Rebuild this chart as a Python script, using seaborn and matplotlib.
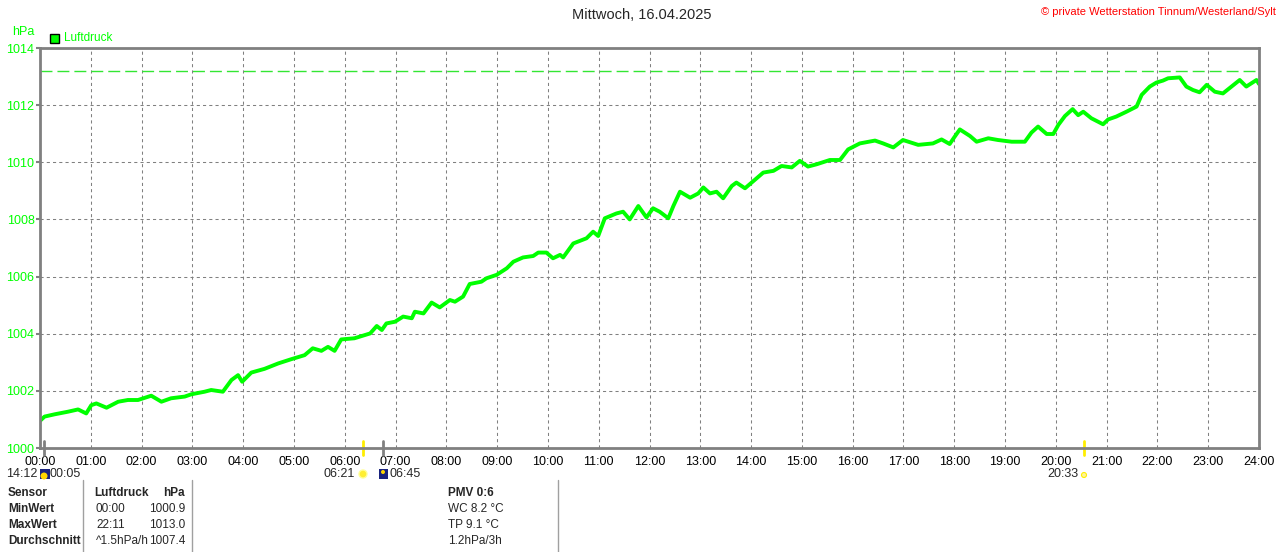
import numpy as np
import pandas as pd
import matplotlib
matplotlib.use("Agg")
import matplotlib.pyplot as plt
import matplotlib.transforms as mtransforms
from matplotlib.patches import Rectangle, Ellipse
import seaborn as sns

# Luftdruck (hPa) ueber den Tag, Zeit in Stunden
hours = [0.0, 0.09, 0.29, 0.55, 0.75, 0.91, 1.01, 1.11, 1.31, 1.54, 1.73, 1.93,
         2.19, 2.39, 2.58, 2.85, 2.98, 3.24, 3.37, 3.60, 3.77, 3.90, 3.98, 4.16,
         4.42, 4.69, 4.95, 5.21, 5.37, 5.54, 5.67, 5.80, 5.93, 6.19, 6.30, 6.50,
         6.63, 6.73, 6.82, 6.99, 7.15, 7.32, 7.38, 7.55, 7.71, 7.87, 8.07, 8.17,
         8.33, 8.46, 8.69, 8.79, 8.99, 9.19, 9.32, 9.51, 9.71, 9.81, 9.97, 10.10,
         10.24, 10.30, 10.50, 10.76, 10.89, 10.99, 11.12, 11.35, 11.48, 11.61,
         11.78, 11.94, 12.07, 12.20, 12.37, 12.47, 12.60, 12.80, 12.96, 13.06,
         13.19, 13.32, 13.45, 13.62, 13.71, 13.88, 14.07, 14.24, 14.44, 14.60,
         14.80, 14.96, 15.12, 15.29, 15.55, 15.75, 15.91, 16.14, 16.44, 16.60,
         16.80, 16.99, 17.29, 17.58, 17.75, 17.91, 18.01, 18.11, 18.31, 18.44,
         18.67, 18.86, 19.13, 19.39, 19.52, 19.65, 19.82, 19.95, 20.05, 20.18,
         20.33, 20.44, 20.54, 20.70, 20.93, 21.03, 21.19, 21.39, 21.59, 21.69,
         21.85, 21.98, 22.11, 22.21, 22.44, 22.57, 22.70, 22.83, 22.97, 23.13,
         23.29, 23.46, 23.62, 23.75, 23.95, 24.0]
pressure = [1000.95, 1001.10, 1001.18, 1001.27, 1001.35, 1001.21, 1001.50, 1001.56,
            1001.41, 1001.62, 1001.68, 1001.68, 1001.83, 1001.62, 1001.74, 1001.80,
            1001.88, 1001.97, 1002.03, 1001.97, 1002.38, 1002.55, 1002.32, 1002.64,
            1002.77, 1002.96, 1003.11, 1003.25, 1003.49, 1003.40, 1003.54, 1003.40,
            1003.80, 1003.84, 1003.90, 1004.01, 1004.27, 1004.13, 1004.36, 1004.42,
            1004.60, 1004.54, 1004.77, 1004.71, 1005.09, 1004.92, 1005.18, 1005.12,
            1005.30, 1005.74, 1005.82, 1005.94, 1006.06, 1006.29, 1006.52, 1006.67,
            1006.72, 1006.84, 1006.84, 1006.64, 1006.76, 1006.67, 1007.16, 1007.34,
            1007.57, 1007.42, 1008.04, 1008.21, 1008.27, 1008.00, 1008.47, 1008.07,
            1008.39, 1008.27, 1008.04, 1008.47, 1008.97, 1008.76, 1008.91, 1009.12,
            1008.91, 1008.97, 1008.74, 1009.17, 1009.29, 1009.09, 1009.38, 1009.64,
            1009.70, 1009.87, 1009.82, 1010.05, 1009.85, 1009.93, 1010.08, 1010.08,
            1010.45, 1010.66, 1010.76, 1010.66, 1010.52, 1010.78, 1010.61, 1010.66,
            1010.80, 1010.64, 1010.90, 1011.15, 1010.92, 1010.72, 1010.84, 1010.78,
            1010.72, 1010.72, 1011.04, 1011.25, 1010.99, 1010.99, 1011.31, 1011.62,
            1011.86, 1011.65, 1011.77, 1011.54, 1011.33, 1011.50, 1011.60, 1011.77,
            1011.95, 1012.36, 1012.65, 1012.79, 1012.86, 1012.94, 1012.97, 1012.65,
            1012.53, 1012.45, 1012.71, 1012.47, 1012.41, 1012.65, 1012.88, 1012.65,
            1012.88, 1012.74]
max_line = 1013.2

x_ticks = list(range(0, 25))
x_labels = [f"{h:02d}:00" for h in x_ticks]
y_ticks = list(range(1000, 1015, 2))

sun_times = [6.35, 20.55]      # 06:21, 20:33
moon_times = [0.083, 6.75]     # 00:05, 06:45

table_rows = ["Sensor", "MinWert", "MaxWert", "Durchschnitt"]
table_col1 = ["Luftdruck", "00:00", "22:11", "^1.5hPa/h"]
table_col2 = ["hPa", "1000.9", "1013.0", "1007.4"]
table_col3 = ["PMV 0:6", "WC 8.2 °C", "TP 9.1 °C", "1.2hPa/3h"]

df = pd.DataFrame({"zeit": hours, "luftdruck": pressure})

sns.set_style("white")
plt.rcParams["font.family"] = ["Liberation Sans", "DejaVu Sans"]

GREEN = "#00ff00"
GRAY = "#808080"

fig = plt.figure(figsize=(12.8, 5.52), dpi=100)
W, H = 1280, 552
ax = fig.add_axes([40 / W, 104 / H, 1219 / W, 400 / H])

sns.lineplot(data=df, x="zeit", y="luftdruck", ax=ax, color=GREEN, linewidth=2.8)
ax.axhline(max_line, color="#33e633", linewidth=1.0, linestyle=(0, (8.6, 3.6)), zorder=1)

ax.set_xlim(0, 24)
ax.set_ylim(1000, 1014)
ax.set_xticks(x_ticks)
ax.set_xticklabels(x_labels)
ax.set_yticks(y_ticks)
ax.set_xlabel("")
ax.set_ylabel("")
ax.grid(True, color=GRAY, linestyle=(0, (3, 3)), linewidth=0.75)
for s in ax.spines.values():
    s.set_color(GRAY)
    s.set_linewidth(2)
ax.tick_params(axis="x", colors=GRAY, labelcolor="black", labelsize=9, length=0, pad=6)
ax.tick_params(axis="y", colors=GRAY, labelcolor=GREEN, labelsize=9, length=3, width=1.5, pad=1)
ax.yaxis.tick_left()

# Sonnen/Mond Markierungen auf der x-Achse
trans = mtransforms.blended_transform_factory(ax.transData, ax.transAxes)
for t in sun_times:
    ax.plot([t, t], [-0.018, 0.018], color="#ffee00", linewidth=2, transform=trans, clip_on=False)
for t in moon_times:
    ax.plot([t, t], [-0.018, 0.018], color=GRAY, linewidth=2, transform=trans, clip_on=False)


def px_box(x, y, w, h, **kw):
    fig.patches.append(Rectangle((x / W, 1 - (y + h) / H), w / W, h / H,
                                 transform=fig.transFigure, **kw))


def px_dot(x, y, d, **kw):
    fig.patches.append(Ellipse((x / W, 1 - y / H), d / W, d / H,
                               transform=fig.transFigure, **kw))


# Titel und Copyright
fig.text(642 / W, 1 - 15 / H, "Mittwoch, 16.04.2025", ha="center", va="center", fontsize=10.5)
fig.text(1276 / W, 1 - 12 / H, "© private Wetterstation Tinnum/Westerland/Sylt",
         ha="right", va="center", fontsize=8, color="red")
fig.text(12 / W, 1 - 32 / H, "hPa", ha="left", va="center", fontsize=9, color=GREEN)
px_box(50, 34, 9, 9, facecolor=GREEN, edgecolor="black", linewidth=1)
fig.text(64 / W, 1 - 38 / H, "Luftdruck", ha="left", va="center", fontsize=8.5, color=GREEN)

# Zeiten unter der Achse
y2 = 1 - 474 / H
fig.text(37 / W, y2, "14:12", ha="right", va="center", fontsize=9)
px_box(40, 469, 10, 10, facecolor="#1a237e", edgecolor="none")
px_dot(44, 476, 7, facecolor="#ffd600", edgecolor="none")
fig.text(50 / W, y2, "00:05", ha="left", va="center", fontsize=9)
fig.text(355 / W, y2, "06:21", ha="right", va="center", fontsize=9)
px_dot(363, 474, 8, facecolor="#ffee33", edgecolor="#ffff99", linewidth=1)
px_box(379, 469, 9, 10, facecolor="#1a237e", edgecolor="none")
px_dot(383, 472, 4, facecolor="#ffd600", edgecolor="none")
fig.text(390 / W, y2, "06:45", ha="left", va="center", fontsize=9)
fig.text(1078 / W, y2, "20:33", ha="right", va="center", fontsize=9)
px_dot(1084, 475, 5, facecolor="#fff59d", edgecolor="#ffee00", linewidth=0.8)

# Tabelle unten
for xl in [83, 192, 558]:
    fig.add_artist(plt.Line2D([xl / W, xl / W], [0, 1 - 480 / H], color="#a0a0a0",
                              linewidth=1, transform=fig.transFigure))
row_y = [493, 509, 525, 541]
for i, yy in enumerate(row_y):
    yf = 1 - yy / H
    bold = "bold" if i == 0 else "normal"
    fig.text(8 / W, yf, table_rows[i], ha="left", va="center", fontsize=8.5, weight="bold")
    if i == 0:
        fig.text(94 / W, yf, table_col1[i], ha="left", va="center", fontsize=8.5, weight="bold")
    else:
        fig.text(96 / W, yf, table_col1[i], ha="left", va="center", fontsize=8.5)
    fig.text(185 / W, yf, table_col2[i], ha="right", va="center", fontsize=8.5, weight=bold)
    fig.text(448 / W, yf, table_col3[i], ha="left", va="center", fontsize=8.5, weight=bold)

fig.savefig("out.png", dpi=100)
